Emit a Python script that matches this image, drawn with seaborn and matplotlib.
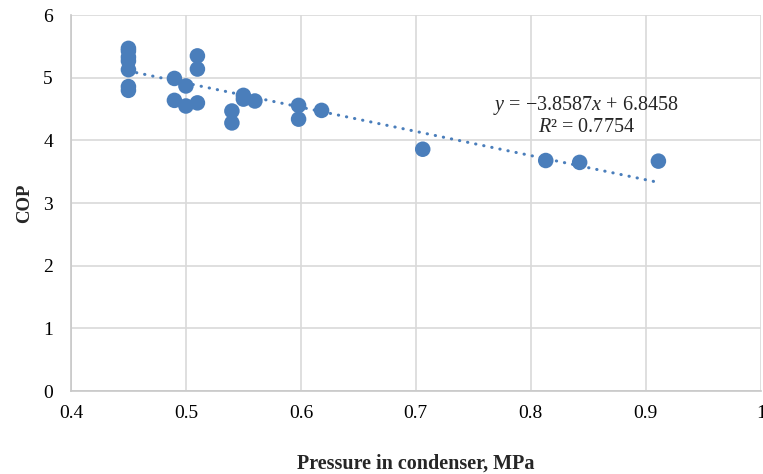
import numpy as np
import pandas as pd
import seaborn as sns
import matplotlib.pyplot as plt

# data
pressure = [0.45, 0.45, 0.45, 0.45, 0.45, 0.45, 0.45,
            0.49, 0.49, 0.50, 0.50, 0.51, 0.51, 0.51,
            0.54, 0.54, 0.55, 0.55, 0.56, 0.598, 0.598, 0.618,
            0.706, 0.813, 0.8425, 0.911]
cop = [5.47, 5.43, 5.33, 5.27, 5.13, 4.86, 4.80,
       4.99, 4.64, 4.87, 4.55, 5.35, 5.14, 4.60,
       4.47, 4.28, 4.72, 4.66, 4.63, 4.56, 4.34, 4.48,
       3.86, 3.68, 3.65, 3.67]

# linear trendline as printed on the chart
slope = -3.8587
intercept = 6.8458
r2 = 0.7754

df = pd.DataFrame({"Pressure": pressure, "COP": cop})

sns.set_style("white")
plt.rcParams['font.family'] = ['Liberation Serif', 'DejaVu Serif']
plt.rcParams['mathtext.fontset'] = 'custom'
plt.rcParams['mathtext.rm'] = 'Liberation Serif'
plt.rcParams['mathtext.it'] = 'Liberation Serif:italic'

blue = "#4A7EBB"

fig, ax = plt.subplots(figsize=(7.63, 4.74), dpi=100)
fig.subplots_adjust(left=0.093, right=0.997, top=0.968, bottom=0.175)

sns.scatterplot(x="Pressure", y="COP", data=df, ax=ax, color=blue,
                s=125, edgecolor="none", zorder=3)

xs = np.array([min(pressure), max(pressure)])
ax.plot(xs, slope * xs + intercept, color=blue, linewidth=2.2,
        linestyle=(0, (0.1, 2.6)), dash_capstyle='round', zorder=2)

ax.text(0.848, 4.40, "$y$ = \u22123.8587$x$ + 6.8458\n$R$\u00b2 = " + f"{r2:.4f}",
        ha="center", va="center", fontsize=14.5, linespacing=1.05, zorder=4)

ax.set_xlim(0.4, 1.0)
ax.set_ylim(0, 6)
ax.set_xticks(np.arange(0.4, 1.01, 0.1))
ax.set_xticklabels(["0.4", "0.5", "0.6", "0.7", "0.8", "0.9", "1"])
ax.set_yticks(range(0, 7))

ax.grid(True, color="#d9d9d9", linewidth=1.2)
ax.set_axisbelow(True)
for side in ["top", "right"]:
    ax.spines[side].set_visible(False)
for side in ["left", "bottom"]:
    ax.spines[side].set_color("#c8c8c8")
    ax.spines[side].set_linewidth(1.2)

ax.tick_params(axis="both", length=0, labelsize=14, colors="black")
ax.tick_params(axis="y", pad=13)
ax.tick_params(axis="x", pad=10)

ax.set_xlabel("Pressure in condenser, MPa", fontsize=14.5, fontweight="bold", labelpad=23)
ax.set_ylabel("COP", fontsize=13.5, fontweight="bold", labelpad=7)

fig.savefig("out.png", dpi=100)
